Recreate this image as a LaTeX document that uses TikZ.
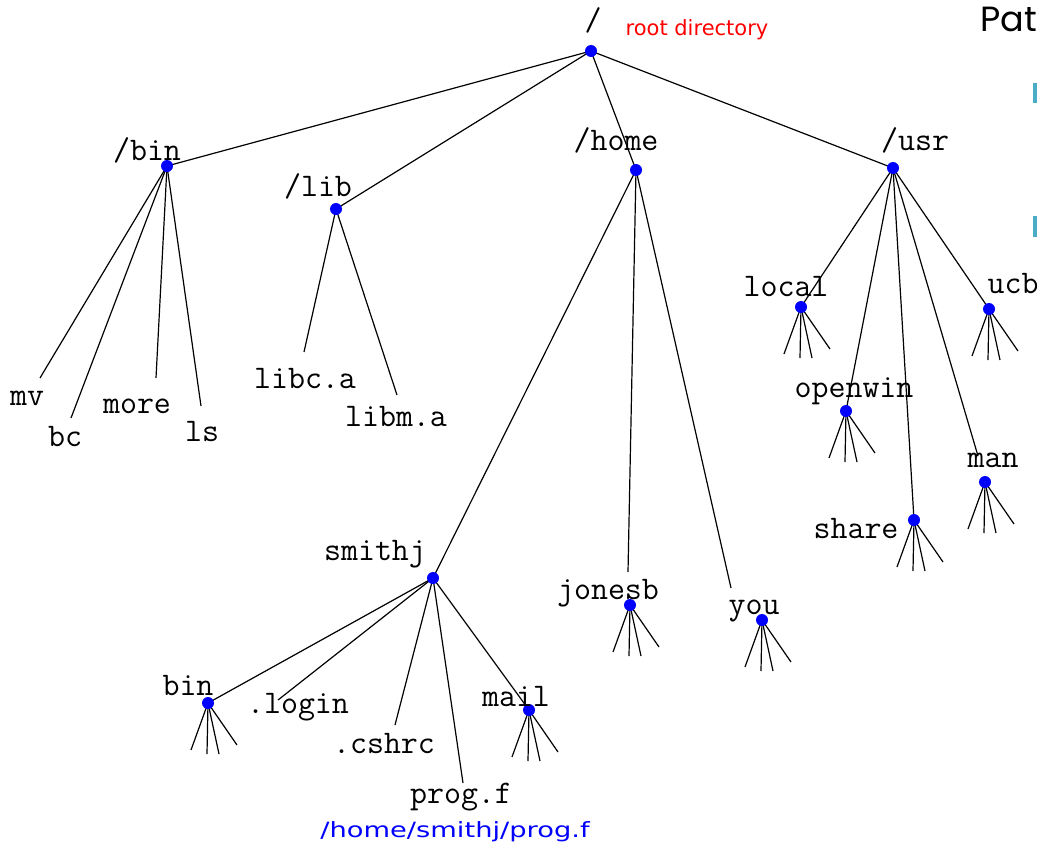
\documentclass[tikz,border=0pt]{standalone}
\usepackage{fontspec}
\setmainfont{DejaVu Sans}
\newfontfamily\slidefont{Poppins}
\definecolor{dirblue}{RGB}{0,0,255}
\definecolor{bulletcyan}{RGB}{75,172,198}
\begin{document}
\begin{tikzpicture}[x=1pt,y=-1pt,
  link/.style={line width=1.2pt},
  dirdot/.style={circle,fill=dirblue,inner sep=0pt,minimum size=12pt},
  lbl/.style={font=\ttfamily\fontsize{33}{34}\selectfont,inner sep=0pt,anchor=base}]
\clip (0,0) rectangle (1037,849);
\fill[white] (0,0) rectangle (1037,849);
% directories
\coordinate (root) at (591,51);
\coordinate (bin) at (167,166);
\coordinate (lib) at (336,209);
\coordinate (home) at (636,170);
\coordinate (usr) at (893,168);
\coordinate (local) at (801,307);
\coordinate (ucb) at (989,309);
\coordinate (openwin) at (846,411);
\coordinate (man) at (985,482);
\coordinate (share) at (914,520);
\coordinate (smithj) at (433,578);
\coordinate (jonesb) at (630,605);
\coordinate (you) at (762,620);
\coordinate (sbin) at (208,703);
\coordinate (mail) at (529,710);
% loose line ends
\coordinate (mv) at (40,378);
\coordinate (bc) at (71,418);
\coordinate (more) at (156,378);
\coordinate (ls) at (201,406);
\coordinate (libc) at (304,352);
\coordinate (libm) at (397,395);
\coordinate (jonesbtop) at (628,572);
\coordinate (youtop) at (731,588);
\coordinate (mantop) at (978,456);
\coordinate (login) at (278,700);
\coordinate (cshrc) at (395,725);
\coordinate (prog) at (463,783);
%
\foreach \d in {bin,lib,home,usr} \draw[link] (root) -- (\d);
\foreach \f in {mv,bc,more,ls} \draw[link] (bin) -- (\f);
\foreach \f in {libc,libm} \draw[link] (lib) -- (\f);
\foreach \d in {smithj,jonesbtop,youtop} \draw[link] (home) -- (\d);
\foreach \d in {local,ucb,openwin,mantop,share} \draw[link] (usr) -- (\d);
\foreach \d in {sbin,login,cshrc,prog,mail} \draw[link] (smithj) -- (\d);
\foreach \d in {local,ucb,openwin,man,share,jonesb,you,sbin,mail}
  \foreach \dx/\dy in {-17/47,-1/51,11/51,29/42}
    \draw[link] (\d) -- ++(\dx,\dy);
\foreach \d in {root,bin,lib,home,usr,local,ucb,openwin,man,share,smithj,jonesb,you,sbin,mail}
  \node[dirdot] (\d-dot) at (\d) {};
% labels
\node[lbl] (rootlbl) at (593,30) {/};
\node[anchor=base,inner sep=0pt,text=red,font=\fontsize{21}{23}\selectfont] (rootnote) at (697,35) {root directory};
\node[lbl] (binlbl) at (147,160) {/bin};
\node[lbl] (liblbl) at (318,196) {/lib};
\node[lbl] (homelbl) at (616,150) {/home};
\node[lbl] (usrlbl) at (915,150) {/usr};
\node[lbl] (mvlbl) at (27,405) {mv};
\node[lbl] (bclbl) at (65,446) {bc};
\node[lbl] (morelbl) at (137,413) {more};
\node[lbl] (lslbl) at (202,441) {ls};
\node[lbl] (libclbl) at (305,388) {libc.a};
\node[lbl] (libmlbl) at (396,426) {libm.a};
\node[lbl] (locallbl) at (786,296) {local};
\node[lbl] (ucblbl) at (1013,293) {ucb};
\node[lbl] (openwinlbl) at (854,397) {openwin};
\node[lbl] (manlbl) at (993,467) {man};
\node[lbl] (sharelbl) at (856,538) {share};
\node[lbl] (smithjlbl) at (375,560) {smithj};
\node[lbl] (jonesblbl) at (608,599) {jonesb};
\node[lbl] (youlbl) at (754,614) {you};
\node[lbl] (sbinlbl) at (188,695) {bin};
\node[lbl] (loginlbl) at (298,713) {.login};
\node[lbl] (cshrclbl) at (384,753) {.cshrc};
\node[lbl] (maillbl) at (516,706) {mail};
\node[lbl] (proglbl) at (461,803) {prog.f};
\node[anchor=base,inner sep=0pt,text=dirblue,xscale=1.3,font=\fontsize{21}{23}\selectfont] (pathnote) at (455,837) {/home/smithj/prog.f};
% slide edge
\node[anchor=base west,inner sep=0pt,font=\slidefont\fontsize{35}{38}\selectfont] (title) at (980,31) {Pat};
\fill[bulletcyan] (1033,83) rectangle (1040,103);
\fill[bulletcyan] (1033,216) rectangle (1040,237);
\end{tikzpicture}
\end{document}
